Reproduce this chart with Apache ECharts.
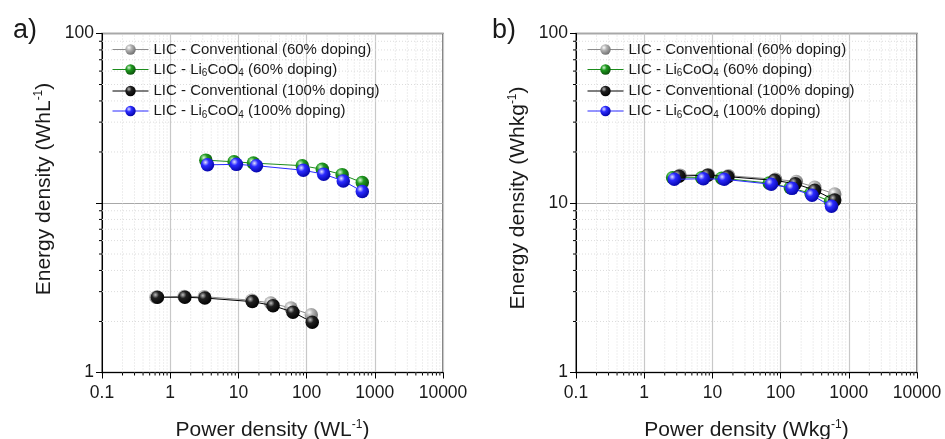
<!DOCTYPE html>
<html>
<head>
<meta charset="utf-8">
<script src="https://cdn.jsdelivr.net/npm/echarts@6/dist/echarts.min.js"></script>
<style>
  html, body { margin: 0; padding: 0; background: #fff; }
  #main { width: 945px; height: 439px; }
</style>
</head>
<body>
<div id="main"></div>
<script>
// series names (legend order)
const names = [
  'LIC - Conventional (60% doping)',
  'LIC - Li6CoO4 (60% doping)',
  'LIC - Conventional (100% doping)',
  'LIC - Li6CoO4 (100% doping)'
];

// a) volumetric
const volPowerConv60 = [0.62, 1.6, 3.15, 15.7, 29.8, 59, 117];
const volEnergyConv60 = [2.78, 2.81, 2.80, 2.67, 2.57, 2.40, 2.19];
const volPowerLi60 = [3.33, 8.65, 16.6, 86.5, 170, 332, 655];
const volEnergyLi60 = [17.9, 17.5, 17.2, 16.6, 15.8, 14.7, 13.2];
const volPowerConv100 = [0.65, 1.64, 3.22, 16.0, 32.2, 63, 121];
const volEnergyConv100 = [2.78, 2.78, 2.75, 2.62, 2.48, 2.27, 1.98];
const volPowerLi100 = [3.52, 9.35, 18.4, 89.5, 178, 345, 655];
const volEnergyLi100 = [16.8, 16.9, 16.6, 15.6, 14.8, 13.5, 11.7];

// b) gravimetric
const gravPowerConv60 = [3.35, 8.7, 17.2, 84, 170, 316, 622];
const gravEnergyConv60 = [14.6, 14.7, 14.5, 13.8, 13.4, 12.4, 11.3];
const gravPowerLi60 = [2.61, 6.96, 13.7, 68.2, 139, 279, 538];
const gravEnergyLi60 = [14.1, 14.1, 14.0, 13.1, 12.3, 11.4, 10.2];
const gravPowerConv100 = [3.24, 8.53, 16.8, 81.6, 164, 316, 622];
const gravEnergyConv100 = [14.4, 14.6, 14.3, 13.6, 13.0, 11.9, 10.4];
const gravPowerLi100 = [2.76, 7.38, 14.9, 73, 147, 289, 557];
const gravEnergyLi100 = [13.8, 13.9, 13.8, 12.9, 12.2, 11.1, 9.56];

// ticks
const xTicks = [0.1, 1, 10, 100, 1000, 10000];
const yTicks = [1, 10, 100];
const minorSteps = [2, 3, 4, 5, 6, 7, 8, 9];

const FONT = '"Liberation Sans", Arial, sans-serif';

function minors(ticks) {
  const out = [];
  for (let i = 0; i < ticks.length - 1; i++) {
    minorSteps.forEach(m => out.push(+(ticks[i] * m).toPrecision(6)));
  }
  return out;
}
const xMinor = minors(xTicks);
const yMinor = minors(yTicks);

function sphere(c0, c1, c2) {
  return new echarts.graphic.RadialGradient(0.35, 0.32, 0.75, [
    { offset: 0, color: c0 },
    { offset: 0.35, color: c1 },
    { offset: 1, color: c2 }
  ]);
}
const styles = [
  { line: '#8c8c8c', fill: sphere('#ffffff', '#b4b4b4', '#6a6a6a') },
  { line: '#1c8c1c', fill: sphere('#d8f5d8', '#1f9a1f', '#0a4a0a') },
  { line: '#000000', fill: sphere('#bdbdbd', '#202020', '#000000') },
  { line: '#2a2aff', fill: sphere('#e0e0ff', '#2b2bff', '#0000a0') }
];

function pairs(xs, ys) { return xs.map((x, i) => [x, ys[i]]); }

function lineSeries(idx, gi, xs, ys) {
  return {
    name: names[idx],
    type: 'line',
    xAxisIndex: gi,
    yAxisIndex: gi,
    data: pairs(xs, ys),
    symbol: 'circle',
    symbolSize: 13.5,
    showSymbol: true,
    z: 5 + idx,
    lineStyle: { color: styles[idx].line, width: 1 },
    itemStyle: { color: styles[idx].fill, borderWidth: 0 },
    emphasis: { disabled: true }
  };
}

// minor grid lines and minor ticks
function minorX(gi) {
  return {
    type: 'custom', xAxisIndex: gi, yAxisIndex: gi, silent: true, z: 1,
    data: xMinor.map(v => [v, 1]),
    renderItem: function (params, api) {
      const b = api.coord([api.value(0), 1]);
      const t = api.coord([api.value(0), 100]);
      return {
        type: 'group', children: [
          { type: 'line', shape: { x1: b[0], y1: b[1], x2: t[0], y2: t[1] },
            style: { stroke: '#dcdcdc', lineWidth: 1, lineDash: [1, 2] } },
          { type: 'line', z2: 10, shape: { x1: b[0], y1: b[1], x2: b[0], y2: b[1] + 3 },
            style: { stroke: '#000', lineWidth: 1 } }
        ]
      };
    }
  };
}
function minorY(gi) {
  return {
    type: 'custom', xAxisIndex: gi, yAxisIndex: gi, silent: true, z: 1,
    data: yMinor.map(v => [0.1, v]),
    renderItem: function (params, api) {
      const l = api.coord([0.1, api.value(1)]);
      const r = api.coord([10000, api.value(1)]);
      return {
        type: 'group', children: [
          { type: 'line', shape: { x1: l[0], y1: l[1], x2: r[0], y2: r[1] },
            style: { stroke: '#dcdcdc', lineWidth: 1, lineDash: [1, 2] } },
          { type: 'line', z2: 10, shape: { x1: l[0] - 3, y1: l[1], x2: l[0], y2: l[1] },
            style: { stroke: '#000', lineWidth: 1 } }
        ]
      };
    }
  };
}

const fmtNum = v => String(+(+v).toPrecision(6));

function xAxis(gi, unit) {
  return {
    type: 'log', logBase: 10, gridIndex: gi, min: 0.1, max: 10000,
    name: unit, nameLocation: 'middle', nameGap: 46,
    nameTextStyle: {
      fontFamily: FONT, fontSize: 21, color: '#1a1a1a',
      rich: { sup: { fontFamily: FONT, fontSize: 12, color: '#1a1a1a', padding: [0, 0, 11, 0] } }
    },
    axisLine: { show: true, onZero: false, lineStyle: { color: '#000', width: 1 } },
    axisTick: { show: true, inside: false, length: 6, lineStyle: { color: '#000' } },
    axisLabel: { fontFamily: FONT, fontSize: 17.5, color: '#1a1a1a', margin: 12, formatter: fmtNum },
    splitLine: { show: true, lineStyle: { color: '#c8c8c8', width: 1.2 } },
    minorTick: { show: false }
  };
}
function yAxis(gi, unit, hideTen, pad) {
  return {
    type: 'log', logBase: 10, gridIndex: gi, min: 1, max: 100,
    name: unit, nameLocation: 'middle', nameGap: 46, nameRotate: 90,
    nameTextStyle: {
      fontFamily: FONT, fontSize: 21, color: '#1a1a1a', padding: [0, 0, 0, pad],
      rich: { sup: { fontFamily: FONT, fontSize: 12, color: '#1a1a1a', padding: [0, 0, 11, 0] } }
    },
    axisLine: { show: true, onZero: false, lineStyle: { color: '#000', width: 1 } },
    axisTick: { show: true, inside: false, length: 6, lineStyle: { color: '#000' } },
    axisLabel: {
      fontFamily: FONT, fontSize: 17.5, color: '#1a1a1a', margin: 8,
      formatter: v => (hideTen && Math.abs(v - 10) < 1e-6) ? '' : fmtNum(v)
    },
    splitLine: { show: true, lineStyle: { color: '#a8a8a8', width: 1 } },
    minorTick: { show: false }
  };
}

function legend(left) {
  return {
    orient: 'vertical', left: left, top: 42, padding: 0,
    itemWidth: 36, itemHeight: 13, itemGap: 5,
    data: names,
    selectedMode: false,
    lineStyle: { width: 1 },
    formatter: n => n.replace('Li6CoO4', 'Li{s|6}CoO{s|4}'),
    textStyle: {
      fontFamily: FONT, fontSize: 15, color: '#1a1a1a',
      rich: { s: { fontFamily: FONT, fontSize: 10, color: '#1a1a1a', padding: [8, 0, 0, 0] } }
    }
  };
}

const chart = echarts.init(document.getElementById('main'));
chart.setOption({
  animation: false,
  backgroundColor: '#fff',
  title: [
    { text: 'a)', left: 8, top: 12, textStyle: { fontFamily: FONT, fontSize: 27, fontWeight: 'normal', color: '#1a1a1a' } },
    { text: 'b)', left: 487, top: 12, textStyle: { fontFamily: FONT, fontSize: 27, fontWeight: 'normal', color: '#1a1a1a' } }
  ],
  grid: [
    { left: 102, top: 33.5, width: 341, height: 339, outerBoundsMode: 'none', show: true, borderColor: '#555', borderWidth: 1.5 },
    { left: 576, top: 33.5, width: 341, height: 339, outerBoundsMode: 'none', show: true, borderColor: '#555', borderWidth: 1.5 }
  ],
  legend: [legend(112), legend(587)],
  xAxis: [xAxis(0, 'Power density (WL{sup|-1})'), xAxis(1, 'Power density (Wkg{sup|-1})')],
  yAxis: [yAxis(0, 'Energy density (WhL{sup|-1})', true, 28), yAxis(1, 'Energy density (Whkg{sup|-1})', false, 10)],
  series: [
    minorX(0), minorY(0), minorX(1), minorY(1),
    lineSeries(0, 0, volPowerConv60, volEnergyConv60),
    lineSeries(1, 0, volPowerLi60, volEnergyLi60),
    lineSeries(2, 0, volPowerConv100, volEnergyConv100),
    lineSeries(3, 0, volPowerLi100, volEnergyLi100),
    lineSeries(0, 1, gravPowerConv60, gravEnergyConv60),
    lineSeries(1, 1, gravPowerLi60, gravEnergyLi60),
    lineSeries(2, 1, gravPowerConv100, gravEnergyConv100),
    lineSeries(3, 1, gravPowerLi100, gravEnergyLi100)
  ]
});
</script>
</body>
</html>
